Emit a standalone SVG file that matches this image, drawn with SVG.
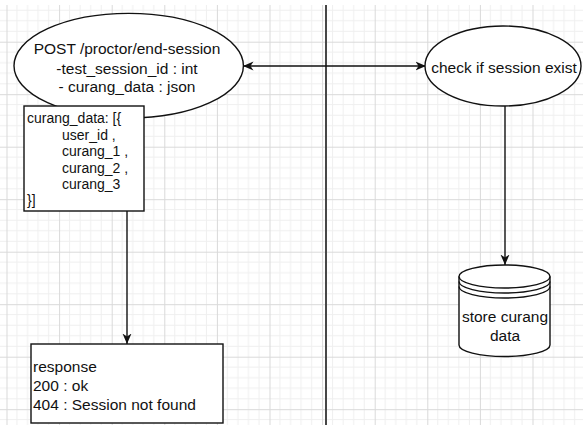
<svg xmlns="http://www.w3.org/2000/svg" width="583" height="425" viewBox="0 0 583 425">
  <defs>
    <style>
      .shape { fill: #ffffff; stroke: #111111; stroke-width: 1.4; }
      .edge { fill: none; stroke: #111111; stroke-width: 1.4; }
      .lbl { font-family: "Liberation Sans", Arial, sans-serif; font-size: 15.5px; fill: #111111; }
      .mid { text-anchor: middle; }
      .small { font-size: 14px; }
    </style>
    <!-- light drawing grid: major cells with four minor subdivisions -->
    <pattern id="grid" patternUnits="userSpaceOnUse" x="6.5" y="41.7" width="52.6" height="52.5">
      <g stroke="#efefef" stroke-width="1" fill="none">
        <path d="M10.5,0V52.5M21,0V52.5M31.6,0V52.5M42.1,0V52.5"/>
        <path d="M0,10.5H52.6M0,21H52.6M0,31.5H52.6M0,42H52.6"/>
      </g>
      <path d="M0.5,0V52.5M0,0.5H52.6" stroke="#d9d9d9" stroke-width="1" fill="none"/>
    </pattern>
    <marker id="arrow" markerUnits="userSpaceOnUse" markerWidth="11" markerHeight="10" viewBox="0 0 11 10" refX="10.5" refY="5" orient="auto-start-reverse">
      <path d="M0,0.5 L10.5,5 L0,9.5 L3,5 Z" fill="#111111"/>
    </marker>
  </defs>

  <rect x="0" y="0" width="583" height="425" fill="#ffffff"/>
  <rect x="0" y="5" width="583" height="420" fill="url(#grid)"/>

  <!-- lane divider -->
  <line x1="326" y1="5" x2="326" y2="425" stroke="#474747" stroke-width="2"/>

  <g id="connectors">
    <line class="edge" x1="243" y1="66" x2="426" y2="66" marker-start="url(#arrow)" marker-end="url(#arrow)"/>
    <line class="edge" x1="127" y1="211" x2="127" y2="344" marker-end="url(#arrow)"/>
    <line class="edge" x1="505" y1="106" x2="505" y2="265" marker-end="url(#arrow)"/>
  </g>

  <g id="end-session-request">
    <ellipse class="shape" cx="128.7" cy="65.7" rx="114.7" ry="52.3"/>
    <text class="lbl mid" x="127" y="54">POST /proctor/end-session</text>
    <text class="lbl mid" x="127" y="74">-test_session_id : int</text>
    <text class="lbl mid" x="127" y="92">- curang_data : json</text>
  </g>

  <g id="curang-data-format">
    <rect class="shape" x="24" y="106" width="120" height="105"/>
    <text class="lbl small" x="27" y="123">curang_data: [{</text>
    <text class="lbl small" x="62" y="139.5">user_id ,</text>
    <text class="lbl small" x="62" y="156">curang_1 ,</text>
    <text class="lbl small" x="62" y="172.5">curang_2 ,</text>
    <text class="lbl small" x="62" y="189">curang_3</text>
    <text class="lbl small" x="27" y="205">}]</text>
  </g>

  <g id="response">
    <rect class="shape" x="31" y="344" width="192" height="79"/>
    <text class="lbl" x="33" y="371.5">response</text>
    <text class="lbl" x="33" y="391">200 : ok</text>
    <text class="lbl" x="33" y="410">404 : Session not found</text>
  </g>

  <g id="check-session">
    <ellipse class="shape" cx="503" cy="66" rx="78" ry="40"/>
    <text class="lbl mid" x="504" y="73">check if session exist</text>
  </g>

  <g id="store-curang-data">
    <path class="shape" d="M459,276.5 A45.5,11.5 0 0 1 550,276.5 V345 A45.5,11.5 0 0 1 459,345 Z"/>
    <path class="edge" d="M459,276.5 A45.5,11.5 0 0 0 550,276.5 M459,281.5 A45.5,11.5 0 0 0 550,281.5 M459,286.5 A45.5,11.5 0 0 0 550,286.5"/>
    <text class="lbl mid" x="505" y="322">store curang</text>
    <text class="lbl mid" x="505" y="341">data</text>
  </g>
</svg>
